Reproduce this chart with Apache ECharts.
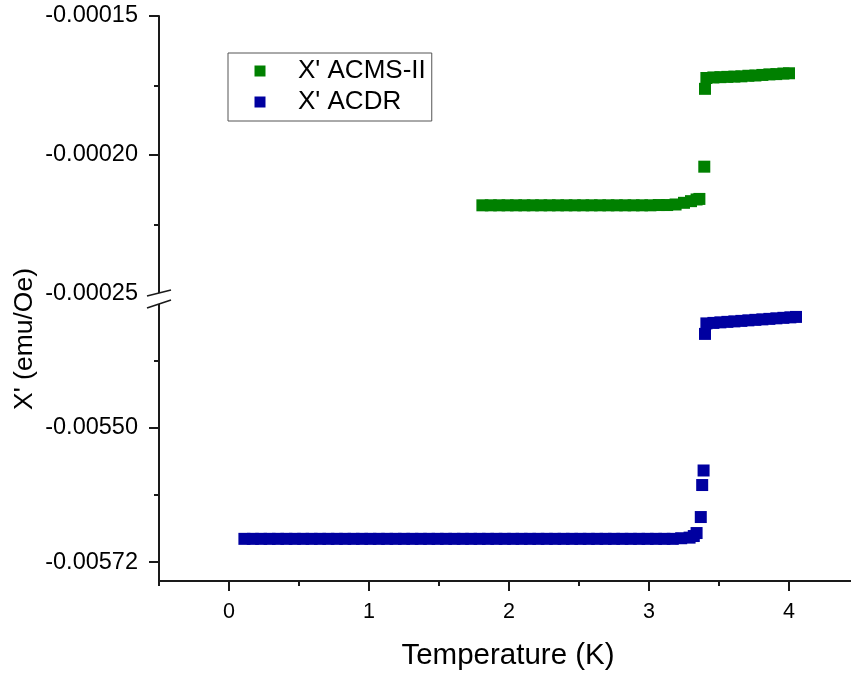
<!DOCTYPE html>
<html>
<head>
<meta charset="utf-8">
<title>X' vs Temperature</title>
<script src="https://cdn.jsdelivr.net/npm/echarts@6/dist/echarts.min.js"></script>
<style>
html, body { margin: 0; padding: 0; background: #fff; }
#chart { width: 851px; height: 673px; }
</style>
</head>
<body>
<div id="chart"></div>
<script>
// X' ACMS-II (upper panel)
const acmsTemp = [
    1.81, 1.87, 1.93, 1.99, 2.05, 2.11, 2.17, 2.23, 2.29, 2.35, 2.41, 2.47,
    2.53, 2.59, 2.65, 2.71, 2.77, 2.83, 2.89, 2.95, 3.01, 3.07, 3.13,
    3.19, 3.25, 3.30, 3.34, 3.36, 3.395, 3.40, 3.41,
    3.46, 3.51, 3.56, 3.61, 3.66, 3.71, 3.76, 3.81, 3.86, 3.91, 3.96, 4.00
]
const acmsChi = [
    -0.0002181, -0.0002181, -0.0002181, -0.0002181, -0.0002181, -0.0002181,
    -0.0002181, -0.0002181, -0.0002181, -0.0002181, -0.0002181, -0.0002181,
    -0.0002181, -0.0002181, -0.0002181, -0.0002181, -0.0002181, -0.0002181,
    -0.0002181, -0.0002181, -0.0002181, -0.0002180, -0.0002180,
    -0.0002178, -0.0002172, -0.0002166, -0.0002160, -0.0002158, -0.0002042, -0.0001762, -0.0001723,
    -0.0001721, -0.0001720, -0.0001719, -0.0001718, -0.0001717, -0.0001715,
    -0.0001714, -0.0001712, -0.0001710, -0.0001709, -0.0001707, -0.0001706
]

// X' ACDR (lower panel)
const acdrTemp = [
    0.11, 0.17, 0.23, 0.29, 0.35, 0.41, 0.47, 0.53, 0.59, 0.65, 0.71, 0.77,
    0.83, 0.89, 0.95, 1.01, 1.07, 1.13, 1.19, 1.25, 1.31, 1.37, 1.43, 1.49,
    1.55, 1.61, 1.67, 1.73, 1.79, 1.85, 1.91, 1.97, 2.03, 2.09, 2.15, 2.21,
    2.27, 2.33, 2.39, 2.45, 2.51, 2.57, 2.63, 2.69, 2.75, 2.81, 2.87, 2.93,
    2.99, 3.05, 3.11, 3.17, 3.23, 3.29,
    3.32, 3.34, 3.37, 3.38, 3.39, 3.40, 3.41,
    3.46, 3.51, 3.56, 3.61, 3.66, 3.71, 3.76, 3.81, 3.86, 3.91, 3.96, 4.01, 4.05
]
const acdrChi = [
    -0.005682, -0.005682, -0.005682, -0.005682, -0.005682, -0.005682,
    -0.005682, -0.005682, -0.005682, -0.005682, -0.005682, -0.005682,
    -0.005682, -0.005682, -0.005682, -0.005682, -0.005682, -0.005682,
    -0.005682, -0.005682, -0.005682, -0.005682, -0.005682, -0.005682,
    -0.005682, -0.005682, -0.005682, -0.005682, -0.005682, -0.005682,
    -0.005682, -0.005682, -0.005682, -0.005682, -0.005682, -0.005682,
    -0.005682, -0.005682, -0.005682, -0.005682, -0.005682, -0.005682,
    -0.005682, -0.005682, -0.005682, -0.005682, -0.005682, -0.005682,
    -0.005682, -0.005682, -0.005682, -0.005682, -0.005681, -0.005680,
    -0.0056774, -0.0056725, -0.0056463, -0.0055939, -0.0055701, -0.0053465, -0.0053293,
    -0.0053285, -0.0053276, -0.0053268, -0.0053260, -0.0053252, -0.0053243,
    -0.0053235, -0.0053227, -0.0053219, -0.0053210, -0.0053202, -0.0053194, -0.0053187
]

// ticks and labels
const xMajorTicks = [0, 1, 2, 3, 4]
const xMinorTicks = [-0.5, 0.5, 1.5, 2.5, 3.5]
const upperLabels = [-0.00015, -0.0002, -0.00025]
const upperMajorTicks = [-0.00015, -0.0002]
const upperMinorTicks = [-0.000175, -0.000225]
const lowerLabels = [-0.0055, -0.00572]
const lowerMinorTicks = [-0.00539, -0.00561]

const FONT = 'Liberation Sans, Arial, sans-serif'
const AX = '#1a1a1a'

const zip = (xs, ys) => xs.map((x, i) => [x, ys[i]])

// x axes: 0 hidden (upper), 1 main (lower), 2 minor ticks (lower)
function xAx(grid, extra) {
    return Object.assign({
        type: 'value', gridIndex: grid, min: -0.5, max: 4.443,
        axisLine: { show: false, onZero: false }, axisTick: { show: false },
        axisLabel: { show: false }, splitLine: { show: false }
    }, extra)
}
function yAx(grid, min, max, extra) {
    return Object.assign({
        type: 'value', gridIndex: grid, position: 'left', min: min, max: max,
        axisLine: { show: false, onZero: false }, axisTick: { show: false },
        axisLabel: { show: false }, splitLine: { show: false }
    }, extra)
}

const chart = echarts.init(document.getElementById('chart'))
const option = {
    animation: false,
    backgroundColor: '#fff',
    grid: [
        { left: 159, right: 0, top: 16, height: 278 },
        { left: 159, right: 0, top: 300, height: 281 }
    ],
    xAxis: [
        xAx(0, {}),
        xAx(1, {
            position: 'bottom',
            axisLine: { show: true, onZero: false, lineStyle: { color: AX, width: 2 } },
            axisTick: { show: true, customValues: xMajorTicks, length: 10, lineStyle: { color: AX, width: 2 } },
            axisLabel: {
                show: true, customValues: xMajorTicks, margin: 20,
                color: '#000', fontSize: 21.5, fontFamily: FONT
            },
            name: 'Temperature (K)', nameLocation: 'middle', nameGap: 60,
            nameTextStyle: { color: '#000', fontSize: 29.5, fontFamily: FONT, padding: [0, 0, 0, 6] }
        }),
        xAx(1, {
            position: 'bottom',
            axisTick: { show: true, customValues: xMinorTicks, length: 5, lineStyle: { color: AX, width: 2 } }
        })
    ],
    yAxis: [
        yAx(0, -0.00025, -0.00015, {
            axisLine: { show: true, onZero: false, lineStyle: { color: AX, width: 2 } },
            axisTick: { show: true, customValues: upperMajorTicks, length: 10, lineStyle: { color: AX, width: 2 } },
            axisLabel: {
                show: true, customValues: upperLabels, margin: 21,
                color: '#000', fontSize: 23.5, fontFamily: FONT,
                formatter: v => v.toFixed(5)
            }
        }),
        yAx(0, -0.00025, -0.00015, {
            axisTick: { show: true, customValues: upperMinorTicks, length: 5, lineStyle: { color: AX, width: 2 } }
        }),
        yAx(1, -0.005751, -0.005291, {
            axisLine: { show: true, onZero: false, lineStyle: { color: AX, width: 2 } },
            axisTick: { show: true, customValues: lowerLabels, length: 10, lineStyle: { color: AX, width: 2 } },
            axisLabel: {
                show: true, customValues: lowerLabels, margin: 21,
                color: '#000', fontSize: 23.5, fontFamily: FONT,
                formatter: v => v.toFixed(5)
            }
        }),
        yAx(1, -0.005751, -0.005291, {
            axisTick: { show: true, customValues: lowerMinorTicks, length: 5, lineStyle: { color: AX, width: 2 } }
        })
    ],
    legend: {
        orient: 'vertical',
        left: 228, top: 53,
        padding: [5, 6, 6, 26.5],
        itemGap: 5,
        itemWidth: 11, itemHeight: 11,
        icon: 'rect',
        borderColor: '#555', borderWidth: 1,
        textStyle: { color: '#000', fontSize: 26, fontFamily: FONT, padding: [0, 0, 0, 27.5] },
        data: ["X' ACMS-II", "X' ACDR"]
    },
    series: [
        {
            name: "X' ACMS-II", type: 'scatter',
            xAxisIndex: 0, yAxisIndex: 0,
            symbol: 'rect', symbolSize: 12,
            itemStyle: { color: '#008000', opacity: 1 },
            data: zip(acmsTemp, acmsChi)
        },
        {
            name: "X' ACDR", type: 'scatter',
            xAxisIndex: 1, yAxisIndex: 2,
            symbol: 'rect', symbolSize: 12,
            itemStyle: { color: '#0000a0', opacity: 1 },
            data: zip(acdrTemp, acdrChi)
        }
    ],
    graphic: [
        // axis break marks
        { type: 'polygon', z: 100, shape: { points: [[147, 296], [171, 290], [171, 300], [147, 308]] }, style: { fill: '#fff' } },
        { type: 'line', z: 101, shape: { x1: 147, y1: 296, x2: 171, y2: 290 }, style: { stroke: AX, lineWidth: 1.5 } },
        { type: 'line', z: 101, shape: { x1: 147, y1: 308, x2: 171, y2: 300 }, style: { stroke: AX, lineWidth: 1.5 } },
        // y axis title spans both panels
        {
            type: 'text', x: 25, y: 339, rotation: Math.PI / 2,
            style: {
                text: "X' (emu/Oe)", align: 'center', verticalAlign: 'middle',
                fill: '#000', fontSize: 26.5, fontFamily: FONT
            }
        }
    ]
}
chart.setOption(option)
</script>
</body>
</html>
